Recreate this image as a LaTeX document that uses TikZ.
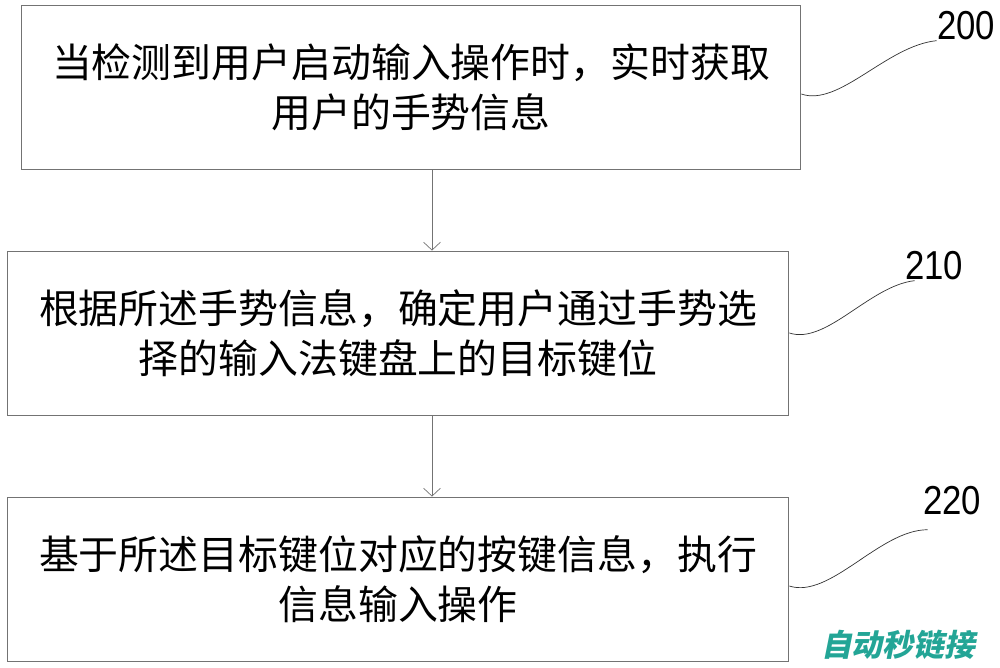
\documentclass[tikz,border=0pt]{standalone}
\usepackage{fontspec}
\usepackage{graphicx}
\setmainfont{Liberation Sans}
\newfontfamily\cjk{Noto Sans CJK SC}
\newfontfamily\wmfont[FakeSlant=0.2]{Noto Sans CJK SC}
\usepackage{xcolor}
\usetikzlibrary{arrows.meta}
\definecolor{wmark}{RGB}{35,165,150}
\tikzset{stepbox/.style={rectangle,draw=black!55,line width=0.5pt,minimum height=3.28cm,align=center,inner sep=0pt,font=\cjk\fontsize{22.7}{28.5}\selectfont}}
\tikzset{num/.style={inner sep=0pt,font=\fontsize{23}{23}\selectfont}}
\newcommand{\labnum}[1]{\scalebox{0.86}[1]{#1}}

\begin{document}
\begin{tikzpicture}[x=0.02cm,y=-0.02cm,>={Straight Barb[length=4.5pt,width=9.6pt]}]
    \useasboundingbox (0,0) rectangle (1000,667);
    \node[stepbox,minimum width=15.6cm] (a) at (411,87) {当检测到用户启动输入操作时，实时获取\\用户的手势信息};
    \node[stepbox,minimum width=15.64cm] (b) at (398,333) {根据所述手势信息，确定用户通过手势选\\择的输入法键盘上的目标键位};
    \node[stepbox,minimum width=15.64cm] (c) at (398,579) {基于所述目标键位对应的按键信息，执行\\信息输入操作};
    \node[num] (p) at (966,26) {\labnum{200}};
    \node[num] (q) at (934,266) {\labnum{210}};
    \node[num] (r) at (952,501) {\labnum{220}};
    \node[font=\wmfont\bfseries\fontsize{17.5}{17.5}\selectfont,text=wmark,inner sep=0pt] (w) at (898,645) {自动秒链接};

    \draw [->,black!55] ([xshift=0.42cm]a.south) -- ([xshift=0.42cm]a.south |- b.north);
    \draw [->,black!55] ([xshift=0.68cm]b.south) -- ([xshift=0.68cm]b.south |- c.north);
    \draw [black!80] ([yshift=-4pt]a.east) .. controls +(38,13) and +(-50,5) .. (p.south west);
    \draw [black!80] (b.east) .. controls +(37,12) and +(-45,5) .. ([xshift=0.2cm]q.south west);
    \draw [black!80] ([yshift=-4pt]c.east) .. controls +(41,13) and +(-48,0) .. ([xshift=0.1cm,yshift=-8pt]r.south west);
\end{tikzpicture}
\end{document}
